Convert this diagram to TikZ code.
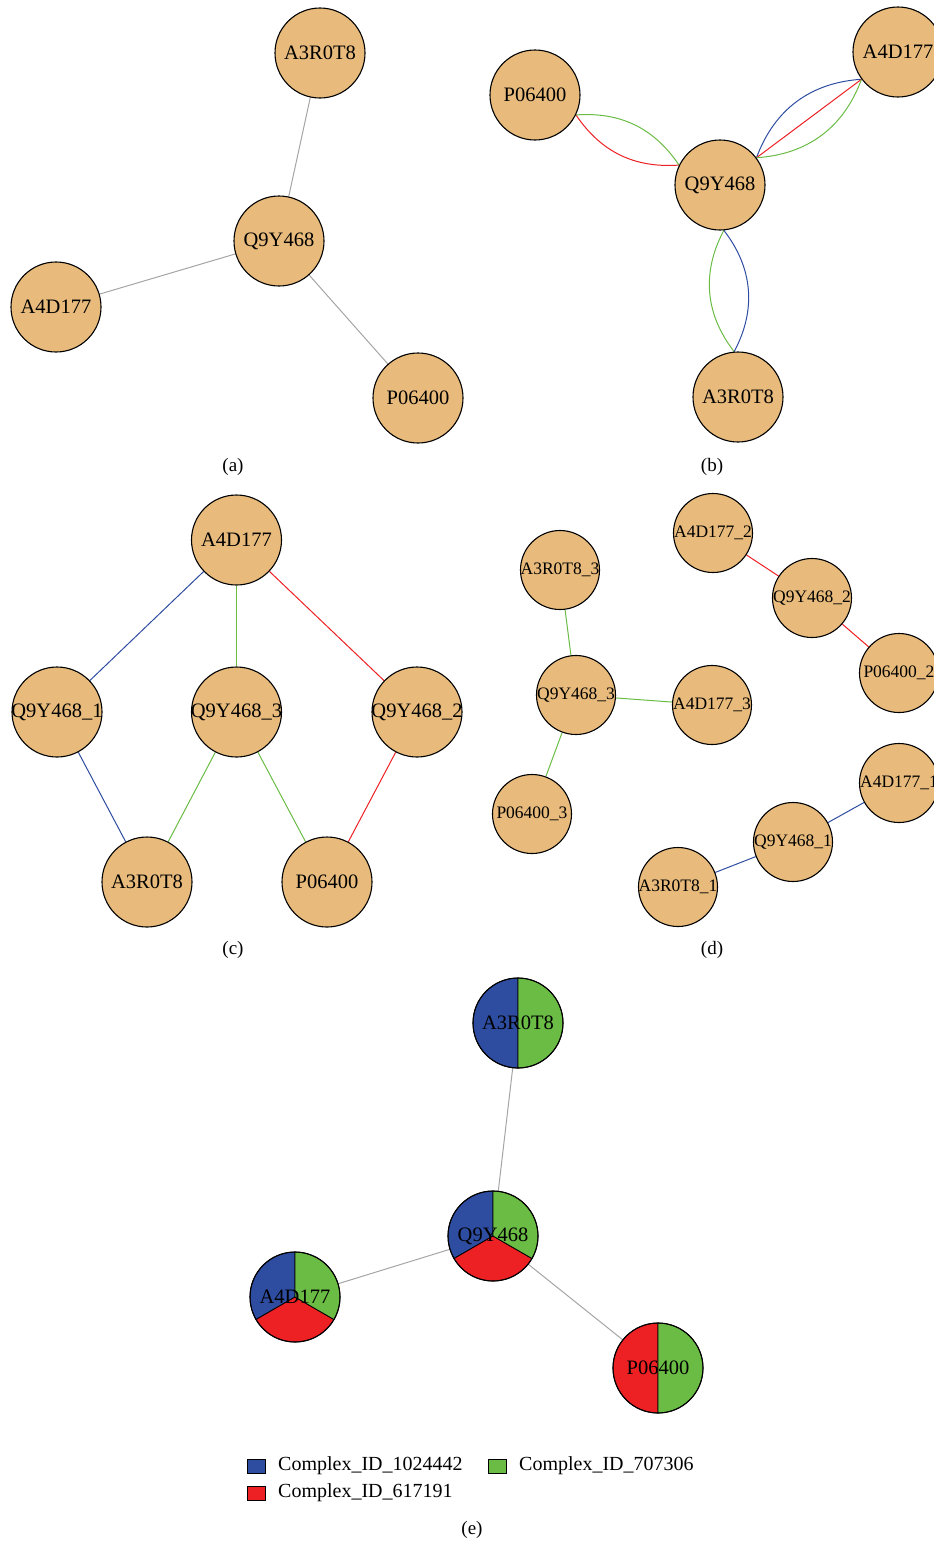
\documentclass[tikz,border=0pt]{standalone}
\usepackage{fontspec}
\setmainfont{Liberation Serif}
\usetikzlibrary{calc}
\definecolor{nodefill}{RGB}{232,187,124}
\definecolor{eblue}{RGB}{46,77,161}
\definecolor{egreen}{RGB}{106,188,69}
\definecolor{ered}{RGB}{237,32,36}
\definecolor{egray}{RGB}{165,165,165}
\pgfdeclarelayer{bg}
\pgfsetlayers{bg,main}
\begin{document}
\begin{tikzpicture}[x=1pt,y=1pt,
  prot/.style={circle, draw=black, line width=1.1pt, fill=nodefill, minimum size=90pt, inner sep=0pt,
    label={[font=\fontsize{20.5}{24}\selectfont, inner sep=0pt]center:#1}},
  protsm/.style={circle, draw=black, line width=1.1pt, fill=nodefill, minimum size=79pt, inner sep=0pt,
    label={[font=\fontsize{17.5}{20}\selectfont, inner sep=0pt]center:#1}},
  pienode/.style={circle, draw=black, line width=1.1pt, minimum size=90pt, inner sep=0pt,
    label={[font=\fontsize{20.5}{24}\selectfont, inner sep=0pt]center:#1}},
  slice/.style={draw=black, line width=0.8pt},
  edge/.style={line width=1pt},
  captext/.style={font=\fontsize{19}{22}\selectfont, inner sep=0pt},
  legbox/.style={draw=black, line width=0.8pt, minimum width=18pt, minimum height=14pt, inner sep=0pt},
  legtext/.style={anchor=west, font=\fontsize{20}{24}\selectfont, inner sep=0pt}]
\useasboundingbox (0,0) rectangle (934,-1543);

% ---------- (a)
\node[prot=A3R0T8] (aA) at (320,-53) {};
\node[prot=Q9Y468] (aQ) at (279,-241) {};
\node[prot=A4D177] (aD) at (56,-307) {};
\node[prot=P06400] (aP) at (418,-398) {};
\begin{pgfonlayer}{bg}
\draw[edge, egray] (aA) -- (aQ);
\draw[edge, egray] (aQ) -- (aD);
\draw[edge, egray] (aQ) -- (aP);
\end{pgfonlayer}
\node[captext] (capa) at (233,-467) {(a)};

% ---------- (b)
\node[prot=P06400] (bP) at (535,-95) {};
\node[prot=A4D177] (bD) at (898,-52) {};
\node[prot=Q9Y468] (bQ) at (720,-185) {};
\node[prot=A3R0T8] (bA) at (738,-397) {};
\path (bP) -- (bQ) coordinate[pos=0] (bPQ1) coordinate[pos=1] (bPQ2);
\path (bQ) -- (bD) coordinate[pos=0] (bQD1) coordinate[pos=1] (bQD2);
\path (bQ) -- (bA) coordinate[pos=0] (bQA1) coordinate[pos=1] (bQA2);
\begin{pgfonlayer}{bg}
\draw[edge, ered] (bPQ1) to[bend right=30] (bPQ2);
\draw[edge, egreen] (bPQ1) to[bend left=30] (bPQ2);
\draw[edge, eblue] (bQD1) to[bend left=33] (bQD2);
\draw[edge, ered] (bQD1) -- (bQD2);
\draw[edge, egreen] (bQD1) to[bend right=33] (bQD2);
\draw[edge, egreen] (bQA1) to[bend right=33] (bQA2);
\draw[edge, eblue] (bQA1) to[bend left=33] (bQA2);
\end{pgfonlayer}
\node[captext] (capb) at (712,-467) {(b)};

% ---------- (c)
\node[prot=A4D177] (cD) at (236.5,-540) {};
\node[prot=Q9Y468\_1] (cQ1) at (57,-712) {};
\node[prot=Q9Y468\_3] (cQ3) at (236.5,-712) {};
\node[prot=Q9Y468\_2] (cQ2) at (417,-712) {};
\node[prot=A3R0T8] (cA) at (147,-882) {};
\node[prot=P06400] (cP) at (327,-882) {};
\begin{pgfonlayer}{bg}
\draw[edge, eblue] (cD) -- (cQ1);
\draw[edge, egreen, line width=1.2pt] (cD) -- (cQ3);
\draw[edge, ered] (cD) -- (cQ2);
\draw[edge, eblue] (cQ1) -- (cA);
\draw[edge, egreen] (cQ3) -- (cA);
\draw[edge, egreen] (cQ3) -- (cP);
\draw[edge, ered] (cQ2) -- (cP);
\end{pgfonlayer}
\node[captext] (capc) at (233,-950) {(c)};

% ---------- (d)
\node[protsm=A3R0T8\_3] (dA3) at (560,-570) {};
\node[protsm=Q9Y468\_3] (dQ3) at (576,-695) {};
\node[protsm=A4D177\_3] (dD3) at (712,-705) {};
\node[protsm=P06400\_3] (dP3) at (532,-814) {};
\node[protsm=A4D177\_2] (dD2) at (713,-533) {};
\node[protsm=Q9Y468\_2] (dQ2) at (812,-598) {};
\node[protsm=P06400\_2] (dP2) at (899,-673) {};
\node[protsm=A4D177\_1] (dD1) at (899,-783) {};
\node[protsm=Q9Y468\_1] (dQ1) at (793,-842) {};
\node[protsm=A3R0T8\_1] (dA1) at (678,-887) {};
\begin{pgfonlayer}{bg}
\draw[edge, egreen] (dA3) -- (dQ3);
\draw[edge, egreen] (dQ3) -- (dD3);
\draw[edge, egreen] (dQ3) -- (dP3);
\draw[edge, ered] (dD2) -- (dQ2);
\draw[edge, ered] (dQ2) -- (dP2);
\draw[edge, eblue] (dD1) -- (dQ1);
\draw[edge, eblue] (dQ1) -- (dA1);
\end{pgfonlayer}
\node[captext] (capd) at (712,-950) {(d)};

% ---------- (e)
\coordinate (eAc) at (518,-1023);
\coordinate (eQc) at (493,-1236);
\coordinate (eDc) at (295,-1297);
\coordinate (ePc) at (658,-1368);
% A3R0T8: blue | green
\filldraw[slice, fill=eblue] (eAc) -- ++(90:45) arc[start angle=90, end angle=270, radius=45] -- cycle;
\filldraw[slice, fill=egreen] (eAc) -- ++(-90:45) arc[start angle=-90, end angle=90, radius=45] -- cycle;
% Q9Y468: blue, red, green
\filldraw[slice, fill=eblue] (eQc) -- ++(90:45) arc[start angle=90, end angle=210, radius=45] -- cycle;
\filldraw[slice, fill=ered] (eQc) -- ++(210:45) arc[start angle=210, end angle=330, radius=45] -- cycle;
\filldraw[slice, fill=egreen] (eQc) -- ++(-30:45) arc[start angle=-30, end angle=90, radius=45] -- cycle;
% A4D177: blue, red, green
\filldraw[slice, fill=eblue] (eDc) -- ++(90:45) arc[start angle=90, end angle=210, radius=45] -- cycle;
\filldraw[slice, fill=ered] (eDc) -- ++(210:45) arc[start angle=210, end angle=330, radius=45] -- cycle;
\filldraw[slice, fill=egreen] (eDc) -- ++(-30:45) arc[start angle=-30, end angle=90, radius=45] -- cycle;
% P06400: red | green
\filldraw[slice, fill=ered] (ePc) -- ++(90:45) arc[start angle=90, end angle=270, radius=45] -- cycle;
\filldraw[slice, fill=egreen] (ePc) -- ++(-90:45) arc[start angle=-90, end angle=90, radius=45] -- cycle;
\node[pienode=A3R0T8] (eA) at (eAc) {};
\node[pienode=Q9Y468] (eQ) at (eQc) {};
\node[pienode=A4D177] (eD) at (eDc) {};
\node[pienode=P06400] (eP) at (ePc) {};
\begin{pgfonlayer}{bg}
\draw[edge, egray] (eA) -- (eQ);
\draw[edge, egray] (eQ) -- (eD);
\draw[edge, egray] (eQ) -- (eP);
\end{pgfonlayer}

% legend
\node[legbox, fill=eblue] (lb1) at (256.5,-1466) {};
\node[legtext] (lt1) at (278,-1466) {Complex\_ID\_1024442};
\node[legbox, fill=egreen] (lb2) at (497,-1466) {};
\node[legtext] (lt2) at (519,-1466) {Complex\_ID\_707306};
\node[legbox, fill=ered] (lb3) at (256.5,-1493) {};
\node[legtext] (lt3) at (278,-1493) {Complex\_ID\_617191};
\node[captext] (cape) at (472,-1530) {(e)};
\end{tikzpicture}
\end{document}
